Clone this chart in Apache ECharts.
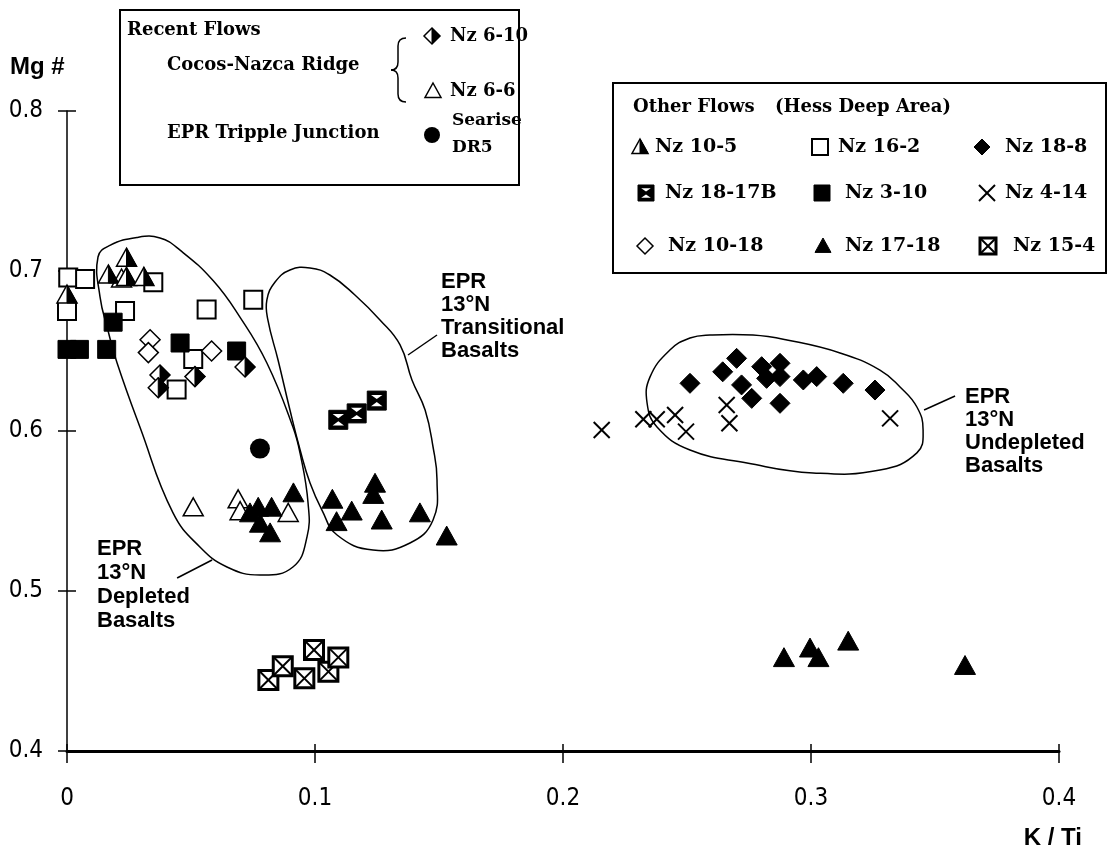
<!DOCTYPE html>
<html><head><meta charset="utf-8">
<script src="https://cdn.jsdelivr.net/npm/echarts@6/dist/echarts.min.js"></script>
<style>html,body{margin:0;padding:0;background:#fff}#c{width:1111px;height:852px}</style>
</head><body><div id="c"></div>
<script>
// ---------- tick labels ----------
const xTickLabels = ['0', '0.1', '0.2', '0.3', '0.4'];
const yTickLabels = ['0.4', '0.5', '0.6', '0.7', '0.8'];

// ---------- series data: [K/Ti, Mg#] ----------
const nz16_2 = [[0.0005,0.696],[0.0073,0.695],[0.0,0.675],[0.0234,0.675],[0.0348,0.693],[0.0563,0.676],[0.0751,0.682],[0.0509,0.645],[0.0442,0.626]];
const nz3_10 = [[0.0,0.651],[0.005,0.651],[0.016,0.651],[0.0186,0.668],[0.0456,0.655],[0.0684,0.650]];
const nz10_5 = [[0.0,0.685],[0.0167,0.6975],[0.024,0.708],[0.024,0.696],[0.031,0.696]];
const nz10_18 = [[0.0335,0.657],[0.0328,0.649],[0.0583,0.650]];
const nz6_10 = [[0.0375,0.635],[0.0368,0.627],[0.0516,0.634],[0.0718,0.640]];
const nz6_6 = [[0.022,0.695],[0.0509,0.552],[0.069,0.557],[0.0698,0.5496],[0.0892,0.5485]];
const seariseDR5 = [[0.0778,0.589]];
const nz17_18 = [[0.0771,0.552],[0.0825,0.552],[0.0913,0.561],[0.0778,0.542],[0.0819,0.536],[0.0738,0.5485],
  [0.107,0.557],[0.1087,0.543],[0.1148,0.5496],[0.1242,0.567],[0.1235,0.56],[0.1269,0.544],[0.1423,0.5485],[0.1531,0.534],
  [0.2891,0.458],[0.2996,0.464],[0.303,0.458],[0.315,0.4683],[0.3621,0.4531]];
const nz18_17B = [[0.1094,0.607],[0.1168,0.611],[0.1249,0.619]];
const nz15_4 = [[0.0812,0.4444],[0.087,0.453],[0.0957,0.4454],[0.0996,0.4631],[0.1054,0.4496],[0.1094,0.4585]];
const nz4_14 = [[0.2156,0.6006],[0.2324,0.6073],[0.2378,0.6073],[0.2452,0.61],[0.2496,0.5996],[0.266,0.6163],[0.2671,0.6048],[0.3319,0.6079]];
const nz18_8 = [[0.2512,0.6298],[0.2644,0.637],[0.27,0.6454],[0.272,0.6288],[0.2761,0.6204],[0.2801,0.6402],[0.2821,0.6329],
  [0.2875,0.6423],[0.2875,0.634],[0.2875,0.6173],[0.2969,0.6319],[0.3023,0.634],[0.313,0.6298],[0.3258,0.6256]];

// ---------- field outlines (annotation, data units) ----------
const depletedOutline = [[0.0125,0.70875],[0.0173,0.716],[0.0282,0.721],[0.0375,0.7206],[0.0456,0.713],[0.0589,0.694],[0.0698,0.671],
  [0.0806,0.6425],[0.0911,0.6025],[0.094,0.586],[0.0972,0.555],[0.0968,0.534],[0.0911,0.515],[0.0778,0.51],[0.0645,0.515],
  [0.0536,0.5275],[0.0427,0.549],[0.0294,0.6025],[0.0202,0.6425],[0.0165,0.663],[0.0133,0.684]];
const transitionalOutline = [[0.0806,0.6819],[0.0839,0.6931],[0.0899,0.7006],[0.098,0.7019],[0.106,0.6975],[0.1161,0.685],[0.1262,0.6694],
  [0.1343,0.6538],[0.1391,0.6319],[0.1444,0.6131],[0.1476,0.59],[0.1492,0.5694],[0.1476,0.5444],[0.1383,0.53],[0.1234,0.5256],
  [0.1089,0.535],[0.1028,0.5506],[0.098,0.5675],[0.094,0.5881],[0.0899,0.6131],[0.0851,0.6444],[0.081,0.6694]];
const undepletedOutline = [[0.2593,0.66],[0.2766,0.66],[0.2903,0.6569],[0.3117,0.6488],[0.3278,0.6381],[0.3359,0.6275],[0.3427,0.615],
  [0.3452,0.6006],[0.3427,0.5863],[0.3278,0.5756],[0.3008,0.5738],[0.2742,0.58],[0.2512,0.5881],[0.2379,0.6025],[0.2339,0.6175],
  [0.2351,0.6338],[0.2431,0.6506],[0.2512,0.6581]];
const depletedLeader = [[0.0585,0.5194],[0.0444,0.5081]];
const transitionalLeader = [[0.1375,0.6475],[0.1492,0.66]];
const undepletedLeader = [[0.3456,0.6131],[0.3581,0.6219]];

// ---------- glyphs ----------
function glyph(kind, cx, cy, s) {
  const h = s / 2, B = '#000', W = '#fff';
  const tri = [[cx, cy - h], [cx + h, cy + h * 0.8], [cx - h, cy + h * 0.8]];
  const dia = [[cx, cy - h], [cx + h, cy], [cx, cy + h], [cx - h, cy]];
  const rect = {x: cx - h, y: cy - h, width: s, height: s};
  switch (kind) {
    case 'sqOpen': return [{type:'rect', shape:rect, style:{fill:W, stroke:B, lineWidth:2}}];
    case 'sqFill': return [{type:'rect', shape:rect, style:{fill:B, stroke:B, lineWidth:1}}];
    case 'sqX': return [
      {type:'rect', shape:rect, style:{fill:W, stroke:B, lineWidth:3}},
      {type:'line', shape:{x1:cx-h, y1:cy-h, x2:cx+h, y2:cy+h}, style:{stroke:B, lineWidth:2}},
      {type:'line', shape:{x1:cx+h, y1:cy-h, x2:cx-h, y2:cy+h}, style:{stroke:B, lineWidth:2}}];
    case 'sqHour': {
      const m = s * 0.2;
      return [
        {type:'rect', shape:rect, style:{fill:B, stroke:B, lineWidth:1}},
        {type:'polygon', shape:{points:[[cx-h+m, cy-h+m],[cx+h-m, cy-h+m],[cx, cy-1.5]]}, style:{fill:W}},
        {type:'polygon', shape:{points:[[cx-h+m, cy+h-m],[cx+h-m, cy+h-m],[cx, cy+1.5]]}, style:{fill:W}}];
    }
    case 'triOpen': return [{type:'polygon', shape:{points:tri}, style:{fill:W, stroke:B, lineWidth:1.5}}];
    case 'triFill': return [{type:'polygon', shape:{points:tri}, style:{fill:B, stroke:B, lineWidth:1}}];
    case 'triHalf': return [
      {type:'polygon', shape:{points:tri}, style:{fill:W, stroke:B, lineWidth:1.5}},
      {type:'polygon', shape:{points:[[cx, cy - h], [cx + h, cy + h * 0.8], [cx, cy + h * 0.8]]}, style:{fill:B, stroke:B, lineWidth:1}}];
    case 'diaOpen': return [{type:'polygon', shape:{points:dia}, style:{fill:W, stroke:B, lineWidth:1.5}}];
    case 'diaFill': return [{type:'polygon', shape:{points:dia}, style:{fill:B, stroke:B, lineWidth:1}}];
    case 'diaHalf': return [
      {type:'polygon', shape:{points:dia}, style:{fill:W, stroke:B, lineWidth:1.5}},
      {type:'polygon', shape:{points:[[cx, cy - h], [cx + h, cy], [cx, cy + h]]}, style:{fill:B, stroke:B, lineWidth:1}}];
    case 'circle': return [{type:'circle', shape:{cx:cx, cy:cy, r:h}, style:{fill:B}}];
    case 'cross': return [
      {type:'line', shape:{x1:cx-h, y1:cy-h, x2:cx+h, y2:cy+h}, style:{stroke:B, lineWidth:2}},
      {type:'line', shape:{x1:cx+h, y1:cy-h, x2:cx-h, y2:cy+h}, style:{stroke:B, lineWidth:2}}];
  }
  return [];
}

function pointSeries(name, data, kind, size) {
  return {
    type: 'custom', name: name, data: data, z: 5, silent: true,
    renderItem: function (params, api) {
      const p = api.coord([api.value(0), api.value(1)]);
      return {type: 'group', children: glyph(kind, p[0], p[1], size)};
    }
  };
}
function outlineSeries(name, pts, closed) {
  return {
    type: 'custom', name: name, data: [pts[0]], z: 2, silent: true,
    renderItem: function (params, api) {
      const c = pts.map(function (q) { return api.coord(q); });
      if (closed) return {type: 'polygon', shape: {points: c, smooth: 0.45}, style: {fill: 'none', stroke: '#000', lineWidth: 1.5}};
      return {type: 'polyline', shape: {points: c}, style: {fill: 'none', stroke: '#000', lineWidth: 1.5}};
    }
  };
}

const serif = "'DejaVu Serif', 'Liberation Serif', serif";
const sans = "'Liberation Sans', Arial, sans-serif";
function txt(x, y, text, font, align, va, extra) {
  const st = {text: text, font: font, fill: '#000', align: align || 'left', verticalAlign: va || 'middle'};
  if (extra) Object.assign(st, extra);
  return {type: 'text', x: x, y: y, z: 20, style: st};
}

const legendG = [];
// Box 1
legendG.push({type:'rect', z:15, shape:{x:120, y:10, width:399, height:175}, style:{fill:'#fff', stroke:'#000', lineWidth:2}});
legendG.push(txt(127, 30, 'Recent Flows', 'bold 18px ' + serif));
legendG.push(txt(167, 65, 'Cocos-Nazca Ridge', 'bold 18px ' + serif));
legendG.push(txt(167, 133, 'EPR Tripple Junction', 'bold 18px ' + serif));
const braceStyle = {fill:'none', stroke:'#000', lineWidth:1.5};
[
  {type:'bezierCurve', shape:{x1:406, y1:38, x2:398, y2:46, cpx1:398, cpy1:38}},
  {type:'line', shape:{x1:398, y1:46, x2:398, y2:62}},
  {type:'bezierCurve', shape:{x1:398, y1:62, x2:391, y2:70, cpx1:398, cpy1:70}},
  {type:'bezierCurve', shape:{x1:391, y1:70, x2:398, y2:78, cpx1:398, cpy1:70}},
  {type:'line', shape:{x1:398, y1:78, x2:398, y2:94}},
  {type:'bezierCurve', shape:{x1:398, y1:94, x2:406, y2:102, cpx1:398, cpy1:102}}
].forEach(function (e) { e.z = 20; e.style = braceStyle; legendG.push(e); });
[['diaHalf', 432, 36], ['triOpen', 433, 91], ['circle', 432, 135]].forEach(function (g) {
  glyph(g[0], g[1], g[2], 16).forEach(function (e) { e.z = 20; legendG.push(e); });
});
legendG.push(txt(450, 36, 'Nz 6-10', 'bold 18px ' + serif));
legendG.push(txt(450, 91, 'Nz 6-6', 'bold 18px ' + serif));
legendG.push(txt(452, 121, 'Searise', 'bold 17px ' + serif));
legendG.push(txt(452, 148, 'DR5', 'bold 17px ' + serif));
// Box 2
legendG.push({type:'rect', z:15, shape:{x:613, y:83, width:493, height:190}, style:{fill:'#fff', stroke:'#000', lineWidth:2}});
legendG.push(txt(633, 107, 'Other Flows', 'bold 18px ' + serif));
legendG.push(txt(775, 107, '(Hess Deep Area)', 'bold 18px ' + serif));
const legendRows = [
  ['triHalf', 640, 147, 'Nz 10-5', 655], ['sqOpen', 820, 147, 'Nz 16-2', 838], ['diaFill', 982, 147, 'Nz 18-8', 1005],
  ['sqHour', 646, 193, 'Nz 18-17B', 665], ['sqFill', 822, 193, 'Nz 3-10', 845], ['cross', 987, 193, 'Nz 4-14', 1005],
  ['diaOpen', 645, 246, 'Nz 10-18', 668], ['triFill', 823, 246, 'Nz 17-18', 845], ['sqX', 988, 246, 'Nz 15-4', 1013]
];
legendRows.forEach(function (r) {
  glyph(r[0], r[1], r[2], 16).forEach(function (e) { e.z = 20; legendG.push(e); });
  legendG.push(txt(r[4], r[2], r[3], 'bold 19px ' + serif));
});
// Axis titles
legendG.push(txt(10, 67, 'Mg #', 'bold 24px ' + sans));
legendG.push(txt(1082, 838, 'K / Ti', 'bold 24px ' + sans, 'right'));
// Field labels
const lab = 'bold 22px ' + sans;
legendG.push(txt(97, 537, 'EPR\n13°N\nDepleted\nBasalts', lab, 'left', 'top', {lineHeight: 24}));
legendG.push(txt(441, 270, 'EPR\n13°N\nTransitional\nBasalts', lab, 'left', 'top', {lineHeight: 23}));
legendG.push(txt(965, 385, 'EPR\n13°N\nUndepleted\nBasalts', lab, 'left', 'top', {lineHeight: 23}));

const narrow = "'Liberation Sans Narrow', 'DejaVu Sans Condensed', sans-serif";
const chart = echarts.init(document.getElementById('c'));
chart.setOption({
  backgroundColor: '#fff',
  animation: false,
  grid: {left: 67, right: 52, top: 111, bottom: 101},
  xAxis: [{
    type: 'value', min: 0, max: 0.4, interval: 0.1,
    axisLine: {lineStyle: {color: '#000', width: 3}},
    axisTick: {length: 12, lineStyle: {color: '#000', width: 1.5}},
    axisLabel: {color: '#000', fontSize: 24, fontFamily: narrow, margin: 36,
      formatter: function (v) { return xTickLabels[Math.round(v / 0.1)]; }},
    splitLine: {show: false}
  }, {
    type: 'value', min: 0, max: 0.4, interval: 0.1, position: 'bottom',
    axisLine: {show: false}, axisTick: {inside: true, length: 7, lineStyle: {color: '#000', width: 1.5}},
    axisLabel: {show: false}, splitLine: {show: false}
  }],
  yAxis: [{
    type: 'value', min: 0.4, max: 0.8, interval: 0.1,
    axisLine: {lineStyle: {color: '#000', width: 1.5}},
    axisTick: {length: 9, lineStyle: {color: '#000', width: 1.5}},
    axisLabel: {color: '#000', fontSize: 24, fontFamily: narrow, margin: 24,
      formatter: function (v) { return yTickLabels[Math.round((v - 0.4) / 0.1)]; }},
    splitLine: {show: false}
  }, {
    type: 'value', min: 0.4, max: 0.8, interval: 0.1, position: 'left',
    axisLine: {show: false}, axisTick: {inside: true, length: 9, lineStyle: {color: '#000', width: 1.5}},
    axisLabel: {show: false}, splitLine: {show: false}
  }],
  graphic: legendG,
  series: [
    outlineSeries('Depleted field', depletedOutline, true),
    outlineSeries('Transitional field', transitionalOutline, true),
    outlineSeries('Undepleted field', undepletedOutline, true),
    outlineSeries('Depleted leader', depletedLeader, false),
    outlineSeries('Transitional leader', transitionalLeader, false),
    outlineSeries('Undepleted leader', undepletedLeader, false),
    pointSeries('Nz 16-2', nz16_2, 'sqOpen', 18),
    pointSeries('Nz 3-10', nz3_10, 'sqFill', 18),
    pointSeries('Nz 6-6', nz6_6, 'triOpen', 20),
    pointSeries('Nz 10-5', nz10_5, 'triHalf', 20),
    pointSeries('Nz 10-18', nz10_18, 'diaOpen', 20),
    pointSeries('Nz 6-10', nz6_10, 'diaHalf', 20),
    pointSeries('Searise DR5', seariseDR5, 'circle', 20),
    pointSeries('Nz 17-18', nz17_18, 'triFill', 21),
    pointSeries('Nz 18-17B', nz18_17B, 'sqHour', 19),
    pointSeries('Nz 15-4', nz15_4, 'sqX', 19),
    pointSeries('Nz 4-14', nz4_14, 'cross', 16),
    pointSeries('Nz 18-8', nz18_8, 'diaFill', 20)
  ]
});
</script>
</body></html>
